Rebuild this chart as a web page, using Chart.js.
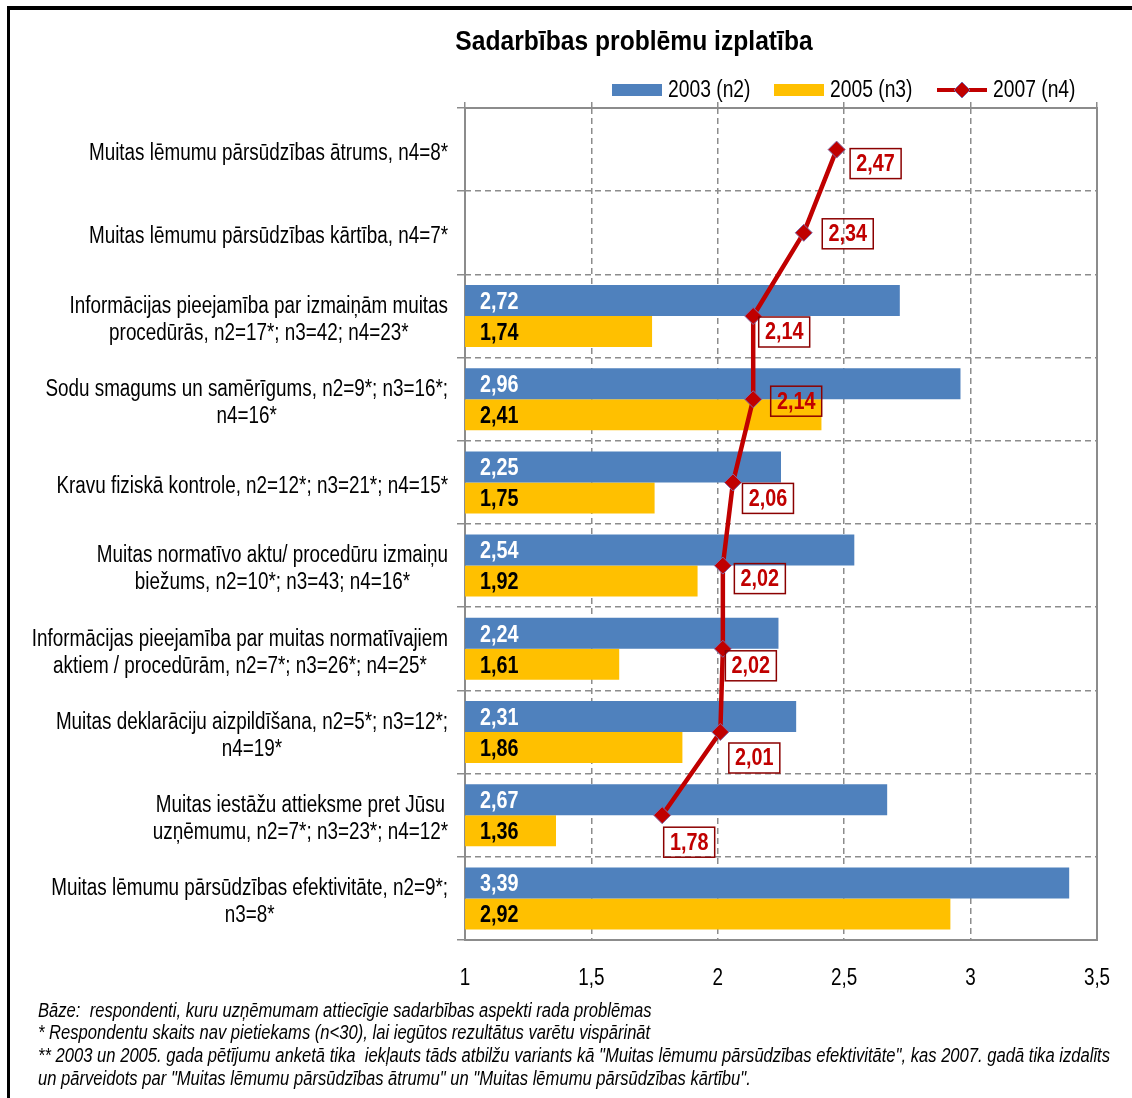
<!DOCTYPE html>
<html>
<head>
<meta charset="utf-8">
<title>Sadarbības problēmu izplatība</title>
<script src="https://cdn.jsdelivr.net/npm/chart.js@4.4.0/dist/chart.umd.min.js"></script>
<style>
  html, body { margin: 0; padding: 0; background: #fff; }
  #wrap { width: 1132px; height: 1098px; }
</style>
</head>
<body>
<div id="wrap"><canvas id="chart" width="1132" height="1098"></canvas></div>
<script>
// dati
const categories = [
  ['Muitas lēmumu pārsūdzības ātrums, n4=8*'],
  ['Muitas lēmumu pārsūdzības kārtība, n4=7*'],
  ['Informācijas pieejamība par izmaiņām muitas', 'procedūrās, n2=17*; n3=42; n4=23*'],
  ['Sodu smagums un samērīgums, n2=9*; n3=16*;', 'n4=16*'],
  ['Kravu fiziskā kontrole, n2=12*; n3=21*; n4=15*'],
  ['Muitas normatīvo aktu/ procedūru izmaiņu', 'biežums, n2=10*; n3=43; n4=16*'],
  ['Informācijas pieejamība par muitas normatīvajiem', 'aktiem / procedūrām, n2=7*; n3=26*; n4=25*'],
  ['Muitas deklarāciju aizpildīšana, n2=5*; n3=12*;', 'n4=19*'],
  ['Muitas iestāžu attieksme pret Jūsu', 'uzņēmumu, n2=7*; n3=23*; n4=12*'],
  ['Muitas lēmumu pārsūdzības efektivitāte, n2=9*;', 'n3=8*']
];
const values2003 = [null, null, 2.72, 2.96, 2.25, 2.54, 2.24, 2.31, 2.67, 3.39];
const values2005 = [null, null, 1.74, 2.41, 1.75, 1.92, 1.61, 1.86, 1.36, 2.92];
const values2007 = [2.47, 2.34, 2.14, 2.14, 2.06, 2.02, 2.02, 2.01, 1.78, null];
const xTicks = [1, 1.5, 2, 2.5, 3, 3.5];

const seriesNames = ['2003 (n2)', '2005 (n3)', '2007 (n4)'];
const titleText = 'Sadarbības problēmu izplatība';
const footnotes = [
  'Bāze:  respondenti, kuru uzņēmumam attiecīgie sadarbības aspekti rada problēmas',
  '* Respondentu skaits nav pietiekams (n<30), lai iegūtos rezultātus varētu vispārināt',
  '** 2003 un 2005. gada pētījumu anketā tika  iekļauts tāds atbilžu variants kā "Muitas lēmumu pārsūdzības efektivitāte", kas 2007. gadā tika izdalīts',
  'un pārveidots par "Muitas lēmumu pārsūdzības ātrumu" un "Muitas lēmumu pārsūdzības kārtību".'
];

// 2007 etiķešu nobīdes (kā Excel oriģinālā, manuāli novietotas)
const labelShift = [[39, 14], [44, 1], [31, 16], [43, 2], [35, 16], [37, 13], [28, 17], [34, 26], [27, 27]];

const FONT = "'Liberation Sans', Arial, sans-serif";
const BLUE = '#4F81BD';
const YELLOW = '#FFC000';
const RED = '#C00000';
const GRID = '#8c8c8c';

const fmt = v => String(v.toFixed(2)).replace('.', ',');

function setTicks(scale) {
  scale.ticks = xTicks.map(v => ({ value: v }));
}

// šaurināts teksts (Arial Narrow aizstājējs)
function fontOf(o) {
  return (o.style || '') + ' ' + (o.weight || '') + ' ' + o.size + 'px ' + FONT;
}
function textW(ctx, s, o) {
  ctx.save();
  ctx.font = fontOf(o);
  const w = ctx.measureText(s).width * (o.sx || 0.82);
  ctx.restore();
  return w;
}
function drawText(ctx, s, x, y, o) {
  ctx.save();
  ctx.font = fontOf(o);
  ctx.fillStyle = o.color || '#000';
  ctx.textAlign = o.align || 'left';
  ctx.textBaseline = 'middle';
  ctx.translate(x, y);
  ctx.scale(o.sx || 0.82, 1);
  ctx.fillText(s, 0, 0);
  ctx.restore();
}

const decor = {
  id: 'decor',
  beforeDraw(chart) {
    const ctx = chart.ctx;
    ctx.save();
    ctx.fillStyle = '#fff';
    ctx.fillRect(0, 0, chart.width, chart.height);
    ctx.restore();
  },
  beforeDatasetsDraw(chart) {
    const { ctx, chartArea: a } = chart;
    ctx.save();
    ctx.strokeStyle = GRID;
    ctx.lineWidth = 2;
    ctx.strokeRect(a.left, a.top, a.right - a.left, a.bottom - a.top);
    ctx.restore();
  },
  afterDatasetsDraw(chart) {
    const { ctx, chartArea: a } = chart;
    // stabiņu vērtības
    [1, 2].forEach(di => {
      const meta = chart.getDatasetMeta(di);
      const data = chart.data.datasets[di].data;
      meta.data.forEach((bar, i) => {
        if (data[i] == null) return;
        drawText(ctx, fmt(data[i]), a.left + 15, bar.y + 2,
          { size: 23, weight: 'bold', sx: 0.86, color: di === 1 ? '#fff' : '#000' });
      });
    });
    // 2007 etiķetes
    const meta = chart.getDatasetMeta(0);
    meta.data.forEach((pt, i) => {
      const v = values2007[i];
      if (v == null) return;
      const cx = pt.x + labelShift[i][0];
      const cy = pt.y + labelShift[i][1];
      const w = 51, h = 30;
      ctx.save();
      ctx.strokeStyle = '#8B0000';
      ctx.lineWidth = 1.5;
      ctx.strokeRect(cx - w / 2, cy - h / 2, w, h);
      ctx.restore();
      drawText(ctx, fmt(v), cx, cy + 1, { size: 23, weight: 'bold', sx: 0.86, color: RED, align: 'center' });
    });
  },
  afterDraw(chart) {
    const { ctx } = chart;
    const yScale = chart.scales.y;
    const xScale = chart.scales.x;

    // virsraksts
    drawText(ctx, titleText, 634, 42, { size: 28, weight: 'bold', sx: 0.88, align: 'center' });

    // leģenda
    ctx.save();
    ctx.fillStyle = BLUE;
    ctx.fillRect(612, 84, 50, 12);
    ctx.fillStyle = YELLOW;
    ctx.fillRect(774, 84, 50, 12);
    ctx.strokeStyle = RED;
    ctx.lineWidth = 4;
    ctx.beginPath();
    ctx.moveTo(937, 90);
    ctx.lineTo(987, 90);
    ctx.stroke();
    ctx.beginPath();
    ctx.moveTo(962, 82); ctx.lineTo(970, 90); ctx.lineTo(962, 98); ctx.lineTo(954, 90); ctx.closePath();
    ctx.fillStyle = RED;
    ctx.fill();
    ctx.strokeStyle = '#7F6AA8';
    ctx.lineWidth = 1;
    ctx.stroke();
    ctx.restore();
    const legFont = { size: 23.5 };
    drawText(ctx, seriesNames[0], 668, 91, legFont);
    drawText(ctx, seriesNames[1], 830, 91, legFont);
    drawText(ctx, seriesNames[2], 993, 91, legFont);

    // x ass vērtības
    xTicks.forEach(v => {
      drawText(ctx, String(v).replace('.', ','), xScale.getPixelForValue(v), 979, { size: 23, align: 'center' });
    });

    // kategoriju nosaukumi
    const catFont = { size: 23, align: 'center' };
    const lineH = 27;
    categories.forEach((lines, i) => {
      const cy = yScale.getPixelForTick(i);
      const wide = Math.max(...lines.map(l => textW(ctx, l, catFont)));
      const cx = 448 - wide / 2;
      const y0 = cy - (lines.length - 1) * lineH / 2;
      lines.forEach((l, j) => drawText(ctx, l, cx, y0 + j * lineH + 4, catFont));
    });

    // piezīmes
    const noteFont = { size: 20, style: 'italic', sx: 1 };
    const raw = textW(ctx, footnotes[2], noteFont);
    noteFont.sx = 1072 / raw;
    footnotes.forEach((t, i) => drawText(ctx, t, 38, 1011 + i * 22.7, noteFont));

    // ārējais rāmis
    ctx.save();
    ctx.fillStyle = '#000';
    ctx.fillRect(7, 6, chart.width - 7, 4);
    ctx.fillRect(7, 6, 3, chart.height - 6);
    ctx.restore();
  }
};

new Chart(document.getElementById('chart'), {
  type: 'bar',
  data: {
    labels: categories,
    datasets: [{
      type: 'line',
      label: seriesNames[2],
      data: values2007,
      borderColor: RED,
      borderWidth: 4.5,
      tension: 0,
      pointStyle: 'rectRot',
      pointRadius: 8.5,
      pointBackgroundColor: RED,
      pointBorderColor: '#7F6AA8',
      pointBorderWidth: 1,
      order: 0
    }, {
      label: seriesNames[0],
      data: values2003,
      backgroundColor: BLUE,
      categoryPercentage: 0.745,
      barPercentage: 1,
      order: 1
    }, {
      label: seriesNames[1],
      data: values2005,
      backgroundColor: YELLOW,
      categoryPercentage: 0.745,
      barPercentage: 1,
      order: 1
    }]
  },
  options: {
    indexAxis: 'y',
    responsive: false,
    animation: false,
    devicePixelRatio: 1,
    layout: { padding: { left: 0, right: 35, top: 102, bottom: 108 } },
    plugins: {
      legend: { display: false },
      title: { display: false },
      tooltip: { enabled: false }
    },
    scales: {
      x: {
        type: 'linear',
        position: 'bottom',
        min: 1,
        max: 3.5,
        afterBuildTicks: setTicks,
        afterFit: s => { s.height = 50; },
        ticks: { display: false },
        grid: { color: GRID, lineWidth: 1.5, drawTicks: false },
        border: { display: false, dash: [6, 4] }
      },
      x2: {
        type: 'linear',
        position: 'top',
        min: 1,
        max: 3.5,
        afterBuildTicks: setTicks,
        afterFit: s => { s.height = 6; },
        ticks: { display: false },
        grid: { color: GRID, lineWidth: 1.5, drawOnChartArea: false, tickLength: 6 },
        border: { display: false }
      },
      y: {
        type: 'category',
        position: 'left',
        afterFit: s => { s.width = 465; },
        ticks: { display: false },
        grid: { offset: true, color: GRID, lineWidth: 1.5, tickLength: 8 },
        border: { display: false, dash: [6, 4] }
      }
    }
  },
  plugins: [decor]
});
</script>
</body>
</html>
